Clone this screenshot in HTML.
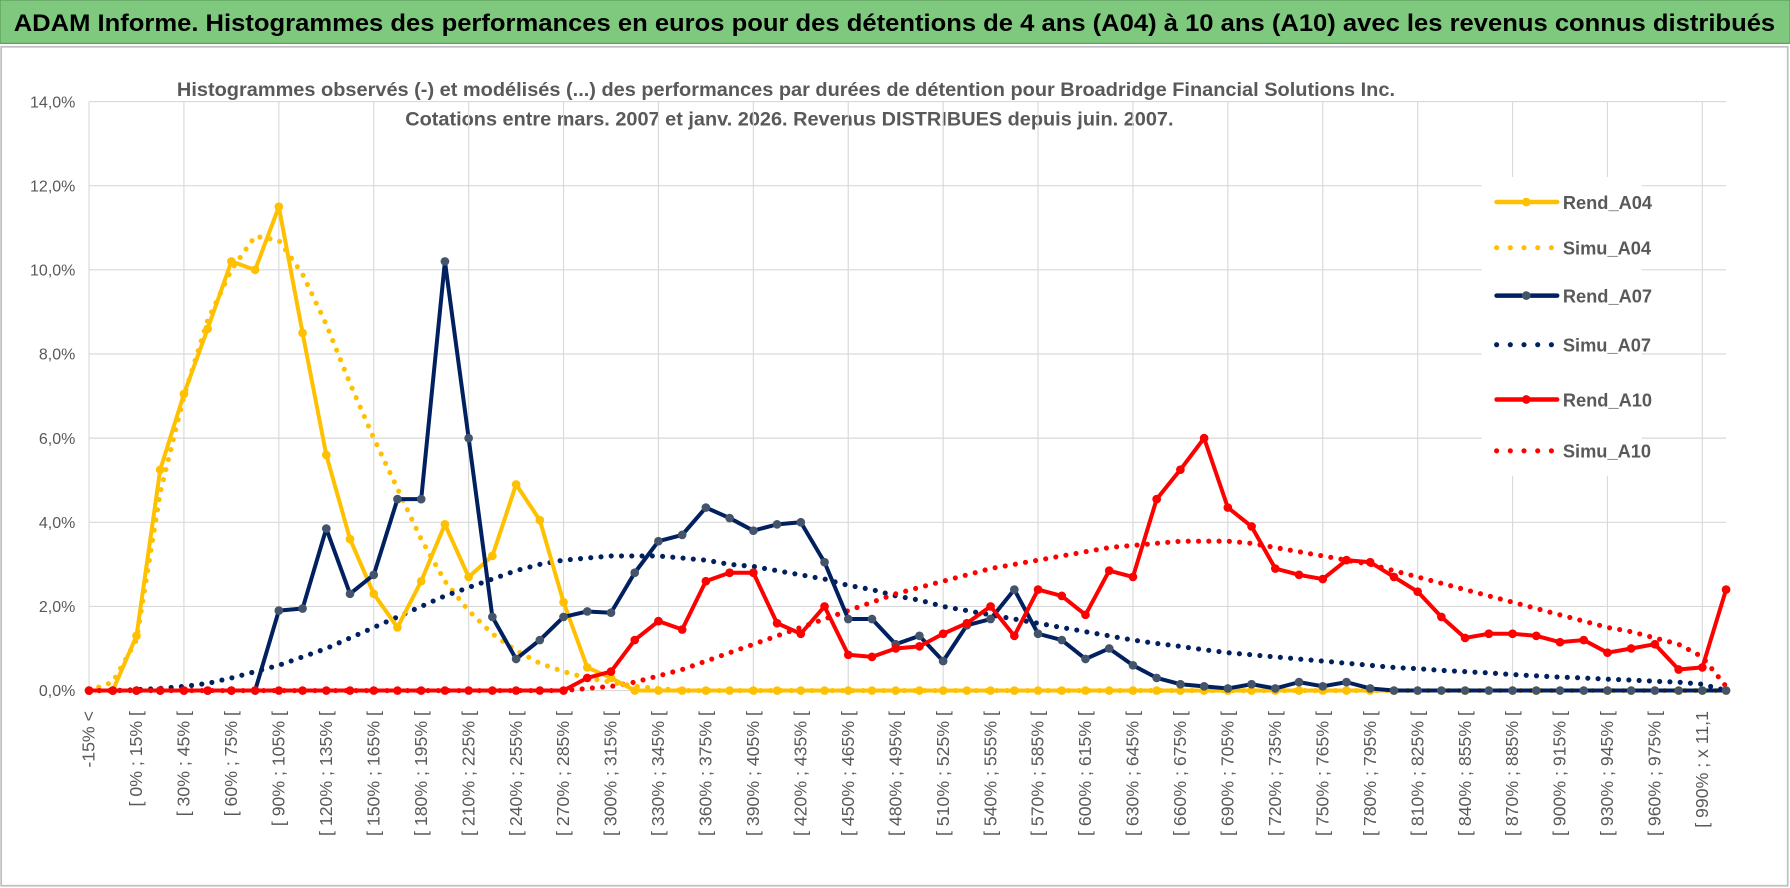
<!DOCTYPE html>
<html><head><meta charset="utf-8"><style>
html,body{margin:0;padding:0;background:#fff;}
svg{display:block;font-family:"Liberation Sans",sans-serif;}
</style></head><body>
<svg id="chart" width="1790" height="888" viewBox="0 0 1568 778" preserveAspectRatio="none" xmlns="http://www.w3.org/2000/svg">
<rect x="0" y="0" width="1568" height="778" fill="#fff"/>
<rect x="0" y="0" width="1568" height="38" fill="#7fc97f" stroke="#5a9a5a" stroke-width="1"/>
<text x="12" y="27" textLength="1543" lengthAdjust="spacingAndGlyphs" font-size="21" font-weight="bold" fill="#000">ADAM Informe. Histogrammes des performances en euros pour des détentions de 4 ans (A04) à 10 ans (A10) avec les revenus connus distribués</text>
<rect x="1" y="41" width="1565" height="735" fill="none" stroke="#bfbfbf" stroke-width="1.5"/>
<text x="155" y="84" textLength="1067" lengthAdjust="spacingAndGlyphs" font-size="17" font-weight="bold" fill="#595959">Histogrammes observés (-) et modélisés (...) des performances par durées de détention pour Broadridge Financial Solutions Inc.</text>
<text x="355" y="110" textLength="673" lengthAdjust="spacingAndGlyphs" font-size="17" font-weight="bold" fill="#595959">Cotations entre mars. 2007 et janv. 2026. Revenus DISTRIBUES depuis juin. 2007.</text>
<g id="grid"></g><g id="yaxis"></g><g id="xaxis"></g><g id="series"></g><g id="legend"></g>
</svg>
<script>
const yTicks=["0,0%","2,0%","4,0%","6,0%","8,0%","10,0%","12,0%","14,0%"];
const yTickVals=[0,2,4,6,8,10,12,14];
const rendA04=[0,0,1.3,5.25,7.05,8.6,10.2,10.0,11.5,8.5,5.6,3.6,2.3,1.5,2.6,3.95,2.7,3.2,4.9,4.05,2.1,0.55,0.3,0,0,0,0,0,0,0,0,0,0,0,0,0,0,0,0,0,0,0,0,0,0,0,0,0,0,0,0,0,0,0,0,0,0,0,0,0,0,0,0,0,0,0,0,0,0,0];
const simuA04=[0,0.2,1.2,4.7,7.0,8.8,10.0,10.8,10.7,9.9,8.7,7.3,6.0,4.8,3.6,2.6,1.9,1.35,0.95,0.65,0.45,0.3,0.2,0.1,0.05,0,0,0,0,0,0,0,0,0,0,0,0,0,0,0,0,0,0,0,0,0,0,0,0,0,0,0,0,0,0,0,0,0,0,0,0,0,0,0,0,0,0,0,0,0];
const rendA07=[0,0,0,0,0,0,0,0,1.9,1.95,3.85,2.3,2.75,4.55,4.55,10.2,6.0,1.75,0.75,1.2,1.75,1.88,1.85,2.8,3.55,3.7,4.35,4.1,3.8,3.95,4.0,3.05,1.7,1.7,1.1,1.3,0.7,1.55,1.7,2.4,1.35,1.2,0.75,1.0,0.6,0.3,0.15,0.1,0.05,0.15,0.05,0.2,0.1,0.2,0.05,0,0,0,0,0,0,0,0,0,0,0,0,0,0,0];
const simuA07=[0,0,0.02,0.05,0.1,0.17,0.3,0.45,0.6,0.8,1.0,1.25,1.5,1.75,2.0,2.25,2.45,2.65,2.85,3.0,3.1,3.15,3.2,3.2,3.2,3.15,3.1,3.0,2.95,2.85,2.75,2.65,2.5,2.4,2.25,2.15,2.0,1.9,1.8,1.7,1.6,1.5,1.4,1.3,1.2,1.12,1.05,0.97,0.9,0.85,0.8,0.75,0.7,0.65,0.6,0.55,0.52,0.48,0.45,0.42,0.38,0.35,0.32,0.3,0.27,0.25,0.22,0.2,0.15,0];
const rendA10=[0,0,0,0,0,0,0,0,0,0,0,0,0,0,0,0,0,0,0,0,0,0.3,0.45,1.2,1.65,1.45,2.6,2.8,2.8,1.6,1.35,2.0,0.85,0.8,1.0,1.05,1.35,1.6,2.0,1.3,2.4,2.25,1.8,2.85,2.7,4.55,5.25,6.0,4.35,3.9,2.9,2.75,2.65,3.1,3.05,2.7,2.35,1.75,1.25,1.35,1.35,1.3,1.15,1.2,0.9,1.0,1.1,0.5,0.55,2.4];
const simuA10=[0,0,0,0,0,0,0,0,0,0,0,0,0,0,0,0,0,0,0,0,0,0.05,0.1,0.2,0.35,0.5,0.7,0.9,1.1,1.3,1.5,1.7,1.9,2.1,2.3,2.45,2.6,2.75,2.9,3.0,3.1,3.2,3.3,3.4,3.45,3.5,3.55,3.55,3.55,3.5,3.4,3.3,3.2,3.1,3.0,2.85,2.7,2.55,2.4,2.25,2.1,1.95,1.8,1.65,1.5,1.4,1.25,1.1,0.8,0.1];
const categories=["-15% <","[ -15% ; 0% ["];
for(let v=0;v<990;v+=15)categories.push("[ "+v+"% ; "+(v+15)+"% [");
categories.push("[ 990% ; x 11,1");categories.push("x 11,1 <");
const NS="http://www.w3.org/2000/svg";
const X0=78,X1=1512,Y0=605,Y14=89;
const xs=i=>X0+(X1-X0)*i/(categories.length-1);
const ys=v=>Y0-(Y0-Y14)*v/14;
function mk(t,p,a){const e=document.createElementNS(NS,t);for(const k in a)e.setAttribute(k,a[k]);p.appendChild(e);return e;}
const grid=document.getElementById('grid'),ya=document.getElementById('yaxis'),xa=document.getElementById('xaxis'),sg=document.getElementById('series'),lg=document.getElementById('legend');
yTickVals.forEach((v,i)=>{
 const l=mk('line',grid,{x1:X0,x2:X1,y1:ys(v),y2:ys(v),stroke:'#d9d9d9','stroke-width':1});
 
 
 const t=mk('text',ya,{x:66,y:ys(v)+5,'text-anchor':'end','font-size':14,fill:'#595959'});
 t.textContent=yTicks[i];
 
 
});
for(let i=0;i<categories.length;i+=4){
 const l=mk('line',grid,{x1:xs(i),x2:xs(i),y1:Y14,y2:Y0,stroke:'#d9d9d9','stroke-width':1});
 
 
}
for(let i=0;i<categories.length-1;i+=2){
 const x=xs(i)+5,y=623;
 const t=mk('text',xa,{x:x,y:y,'text-anchor':'end','font-size':15.5,fill:'#595959',transform:`rotate(-90 ${x} ${y})`});
 t.textContent=categories[i];
 
 
}
function dotted(arr,col,name){
 const p=mk('path',sg,{d:arr.map((v,i)=>(i?'L':'M')+xs(i)+' '+ys(v)).join(''),fill:'none',stroke:col,'stroke-width':4.5,'stroke-linecap':'round','stroke-dasharray':'0 9'});
 
 
}
function solid(arr,col,mcol,name){
 const g=mk('g',sg,{});
 
 
 mk('path',g,{d:arr.map((v,i)=>(i?'L':'M')+xs(i)+' '+ys(v)).join(''),fill:'none',stroke:col,'stroke-width':3.5,'stroke-linejoin':'round'});
 arr.forEach((v,i)=>{const c=mk('circle',g,{cx:xs(i),cy:ys(v),r:3.8,fill:mcol});
  
  });
}
dotted(simuA04,'#ffc000','simu-a04-line');
dotted(simuA07,'#002060','simu-a07-line');
dotted(simuA10,'#ff0000','simu-a10-line');
solid(rendA04,'#ffc000','#ffc000','rend-a04-line');
solid(rendA07,'#002060','#44546a','rend-a07-line');
solid(rendA10,'#ff0000','#ff0000','rend-a10-line');
const legNames=["Rend_A04","Simu_A04","Rend_A07","Simu_A07","Rend_A10","Simu_A10"];
const legCols=["#ffc000","#ffc000","#002060","#002060","#ff0000","#ff0000"];
const legY=[177,217,259,302,350,395];
mk('rect',lg,{x:1298,y:155,width:140,height:262,fill:'#fff'});
legNames.forEach((n,i)=>{
 const g=mk('g',lg,{});
 
 
 const y=legY[i];
 if(i%2==0){mk('line',g,{x1:1311,x2:1364,y1:y,y2:y,stroke:legCols[i],'stroke-width':4,'stroke-linecap':'round'});
  mk('circle',g,{cx:1337,cy:y,r:3.8,fill:i==2?'#44546a':legCols[i]});}
 else mk('line',g,{x1:1311,x2:1364,y1:y,y2:y,stroke:legCols[i],'stroke-width':4.5,'stroke-linecap':'round','stroke-dasharray':'0 12'});
 const t=mk('text',g,{x:1369,y:y+6,'font-size':16,'font-weight':'bold',fill:'#595959'});
 t.textContent=n;
});
</script>
</body></html>
